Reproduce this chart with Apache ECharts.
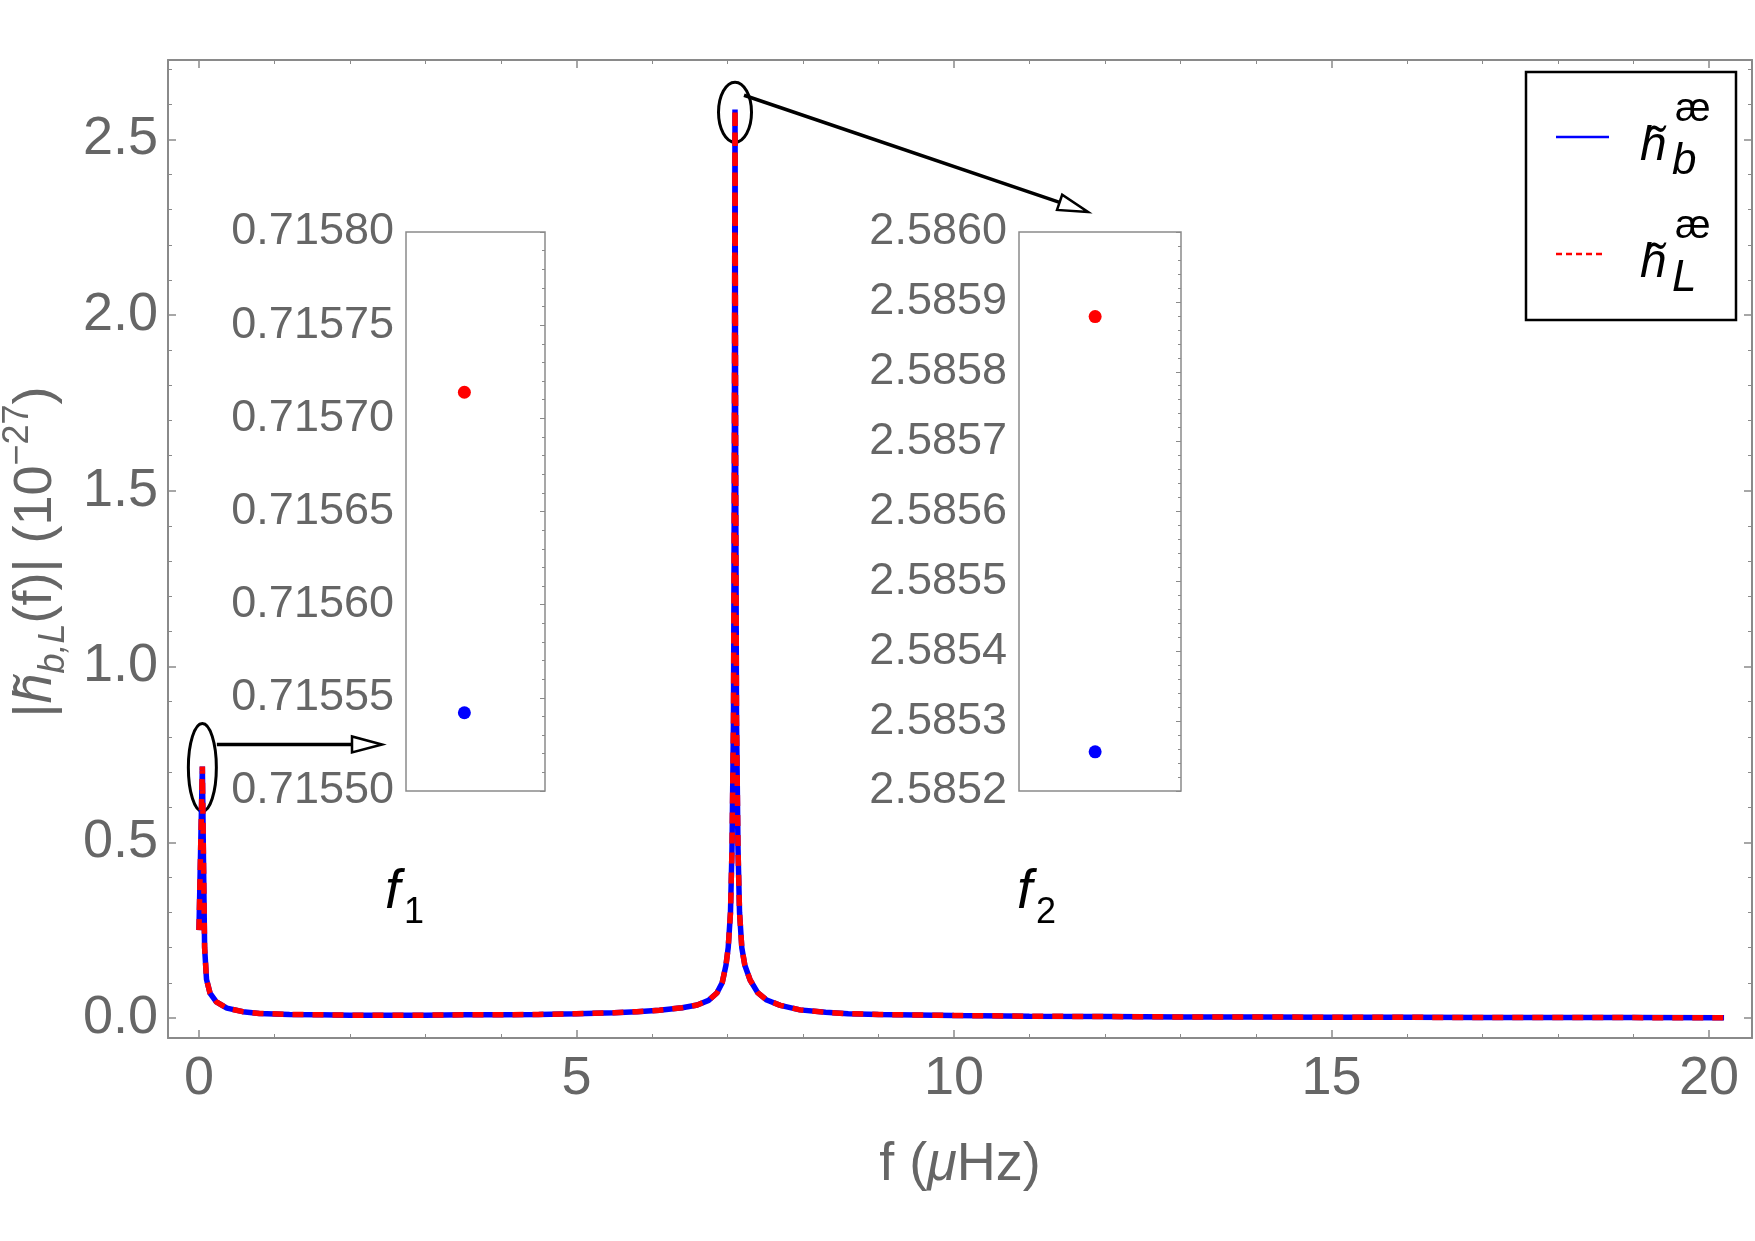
<!DOCTYPE html>
<html>
<head>
<meta charset="utf-8">
<title>|h(f)| spectrum</title>
<script src="https://cdn.jsdelivr.net/npm/echarts@6/dist/echarts.min.js"></script>
<style>
  html, body { margin: 0; padding: 0; background: #fff; }
  #main { width: 1755px; height: 1241px; }
</style>
</head>
<body>
<div id="main"></div>
<script>
// frequency in uHz, amplitude in 1e-27
const freq = [0, 0.045, 0.06, 0.075, 0.10, 0.146, 0.23, 0.37, 0.58, 0.8, 1.2, 1.6, 2.0, 2.5, 3.0, 3.5, 4.0, 4.5,
  5.0, 5.5, 5.8, 6.1, 6.4, 6.6, 6.75, 6.86, 6.93, 6.98, 7.01, 7.04, 7.06, 7.08, 7.09, 7.10, 7.11, 7.12, 7.14,
  7.16, 7.19, 7.23, 7.30, 7.40, 7.52, 7.70, 7.96, 8.3, 8.6, 9.0, 10.0, 11.0, 12.0, 13.0, 14.0, 15.0, 16.0,
  17.0, 18.0, 19.0, 20.2];
const hB = [0.25, 0.715542, 0.45, 0.20, 0.11, 0.071, 0.046, 0.028, 0.018, 0.013, 0.010, 0.009, 0.008, 0.008, 0.008, 0.009, 0.009, 0.010,
  0.012, 0.015, 0.018, 0.022, 0.029, 0.037, 0.050, 0.071, 0.10, 0.15, 0.20, 0.30, 0.48, 0.85, 1.5, 2.585256, 1.5, 0.85, 0.48,
  0.30, 0.20, 0.15, 0.108, 0.072, 0.051, 0.036, 0.023, 0.016, 0.012, 0.010, 0.007, 0.005, 0.004, 0.003, 0.003, 0.002, 0.002,
  0.001, 0.001, 0.001, 0.0005];
const hL = [0.25, 0.715714, 0.45, 0.20, 0.11, 0.071, 0.046, 0.028, 0.018, 0.013, 0.010, 0.009, 0.008, 0.008, 0.008, 0.009, 0.009, 0.010,
  0.012, 0.015, 0.018, 0.022, 0.029, 0.037, 0.050, 0.071, 0.10, 0.15, 0.20, 0.30, 0.48, 0.85, 1.5, 2.585879, 1.5, 0.85, 0.48,
  0.30, 0.20, 0.15, 0.108, 0.072, 0.051, 0.036, 0.023, 0.016, 0.012, 0.010, 0.007, 0.005, 0.004, 0.003, 0.003, 0.002, 0.002,
  0.001, 0.001, 0.001, 0.0005];

// zoomed values at the two peaks: [f1, f2]
const peakB = [0.715542, 2.585256];
const peakL = [0.715714, 2.585879];
const peakIdx = [1, 33];

// inset y ranges and tick steps
const inset1Y = [0.71550, 0.71580];
const inset2Y = [2.5852, 2.5860];
const insetStep = [0.00005, 0.0001];

const gray = '#666666';
const frame = '#8a8a8a';
const font = 'Liberation Sans';

const chart = echarts.init(document.getElementById('main'));

function onStep(v, step) {
  return Math.abs(v / step - Math.round(v / step)) < 1e-6;
}

function mirror(pos, grid, min, max) {
  return {
    type: 'value', gridIndex: grid, position: pos, min: min, max: max,
    axisLine: { show: true, onZero: false, lineStyle: { color: frame, width: 2 } },
    axisTick: { show: true, inside: true, length: 8, lineStyle: { color: frame, width: 1.5 } },
    minorTick: { show: true, splitNumber: 5, length: 4, lineStyle: { color: frame, width: 1 } },
    axisLabel: { show: false },
    splitLine: { show: false }
  };
}

const xMain = mirror('bottom', 0, -0.41, 20.57);
xMain.axisLabel = {
  show: true, fontSize: 54, color: gray, fontFamily: font, margin: 14,
  formatter: v => onStep(v, 5) ? String(Math.round(v)) : ''
};
xMain.name = '{n|f (}{i|\u03bc}{n|Hz)}';
xMain.nameLocation = 'middle';
xMain.nameGap = 100;
xMain.nameTextStyle = {
  rich: {
    n: { fontSize: 54, color: gray, fontFamily: font },
    i: { fontSize: 54, color: gray, fontFamily: font, fontStyle: 'italic' }
  }
};

const yMain = mirror('left', 0, -0.057, 2.726);
yMain.axisLabel = {
  show: true, fontSize: 54, color: gray, fontFamily: font, margin: 10,
  formatter: v => onStep(v, 0.5) ? v.toFixed(1) : ''
};

function insetAxis(pos, grid, range, step, digits, labels) {
  return {
    type: 'value', gridIndex: grid, position: pos, min: range[0], max: range[1], interval: step,
    axisLine: { show: false },
    axisTick: { show: !labels, inside: true, length: 5, lineStyle: { color: frame, width: 1 } },
    minorTick: { show: !labels, splitNumber: 5, length: 3, lineStyle: { color: frame, width: 1 } },
    axisLabel: {
      show: labels, fontSize: 45, color: gray, fontFamily: font, margin: 12,
      formatter: v => v.toFixed(digits)
    },
    splitLine: { show: false }
  };
}

const hiddenX = grid => ({ type: 'value', gridIndex: grid, min: 0, max: 1, show: false });

const dot = color => ({ color: color, opacity: 1 });

const option = {
  backgroundColor: '#ffffff',
  animation: false,
  grid: [
    { left: 168, top: 60, width: 1584, height: 978, outerBoundsMode: 'none' },
    { left: 406, top: 232, width: 139, height: 559, show: true, borderColor: frame, borderWidth: 1.5,
      backgroundColor: '#fff', outerBoundsMode: 'none' },
    { left: 1019, top: 232, width: 162, height: 559, show: true, borderColor: frame, borderWidth: 1.5,
      backgroundColor: '#fff', outerBoundsMode: 'none' }
  ],
  xAxis: [xMain, mirror('top', 0, -0.41, 20.57), hiddenX(1), hiddenX(2)],
  yAxis: [
    yMain,
    mirror('right', 0, -0.057, 2.726),
    insetAxis('left', 1, inset1Y, insetStep[0], 5, true),
    insetAxis('right', 1, inset1Y, insetStep[0], 5, false),
    insetAxis('left', 2, inset2Y, insetStep[1], 4, true),
    insetAxis('right', 2, inset2Y, insetStep[1], 4, false)
  ],
  series: [
    {
      name: 'hb', type: 'line', xAxisIndex: 0, yAxisIndex: 0, showSymbol: false, z: 2,
      data: freq.map((f, i) => [f, hB[i]]),
      lineStyle: { color: '#0000ff', width: 5.5 }
    },
    {
      name: 'hL', type: 'line', xAxisIndex: 0, yAxisIndex: 0, showSymbol: false, z: 3,
      data: freq.map((f, i) => [f, hL[i]]),
      lineStyle: { color: '#ff0000', width: 5.5, type: [11, 9] }
    },
    { type: 'scatter', xAxisIndex: 2, yAxisIndex: 2, symbolSize: 13, itemStyle: dot('#ff0000'), data: [[0.42, peakL[0]]] },
    { type: 'scatter', xAxisIndex: 2, yAxisIndex: 2, symbolSize: 13, itemStyle: dot('#0000ff'), data: [[0.42, peakB[0]]] },
    { type: 'scatter', xAxisIndex: 3, yAxisIndex: 4, symbolSize: 13, itemStyle: dot('#ff0000'), data: [[0.47, peakL[1]]] },
    { type: 'scatter', xAxisIndex: 3, yAxisIndex: 4, symbolSize: 13, itemStyle: dot('#0000ff'), data: [[0.47, peakB[1]]] }
  ]
};
chart.setOption(option);

// annotations: ellipses round the two peaks with arrows to the insets
const p1 = chart.convertToPixel({ gridIndex: 0 }, [freq[peakIdx[0]], hL[peakIdx[0]]]);
const p2 = chart.convertToPixel({ gridIndex: 0 }, [freq[peakIdx[1]], hL[peakIdx[1]]]);

function arrow(x1, y1, x2, y2) {
  const len = Math.hypot(x2 - x1, y2 - y1);
  const ux = (x2 - x1) / len, uy = (y2 - y1) / len;
  const bx = x2 - ux * 30, by = y2 - uy * 30;
  return [
    { type: 'line', shape: { x1: x1, y1: y1, x2: bx, y2: by }, style: { stroke: '#000', lineWidth: 3.5 } },
    { type: 'polygon', shape: { points: [[x2, y2], [bx - uy * 8, by + ux * 8], [bx + uy * 8, by - ux * 8]] },
      style: { fill: '#fff', stroke: '#000', lineWidth: 2.5 } }
  ];
}

function txt(x, y, s, size, italic, color) {
  return {
    type: 'text', x: x, y: y, z: 10,
    style: { text: s, fontSize: size, fontFamily: font, fontStyle: italic ? 'italic' : 'normal',
      fill: color, align: 'left', verticalAlign: 'bottom' }
  };
}

const graphics = [
  { type: 'ellipse', shape: { cx: p1[0], cy: p1[1] + 1, rx: 14, ry: 44 }, style: { fill: null, stroke: '#000', lineWidth: 3 } },
  { type: 'ellipse', shape: { cx: p2[0], cy: p2[1] + 3, rx: 16.5, ry: 30 }, style: { fill: null, stroke: '#000', lineWidth: 3 } }
].concat(arrow(p1[0] + 14.5, p1[1] - 22, 382, p1[1] - 22))
 .concat(arrow(p2[0] + 9, p2[1] - 14, 1088, 212))
 .concat([
  txt(385, 920, 'f', 55, true, '#000'),
  txt(404, 931, '1', 36, false, '#000'),
  txt(1017, 920, 'f', 55, true, '#000'),
  txt(1036, 931, '2', 36, false, '#000'),
  // legend
  { type: 'rect', shape: { x: 1526, y: 72, width: 210, height: 248 }, style: { fill: '#fff', stroke: '#000', lineWidth: 2.5 } },
  { type: 'line', shape: { x1: 1556, y1: 137, x2: 1609, y2: 137 }, style: { stroke: '#0000ff', lineWidth: 2.5 } },
  { type: 'line', shape: { x1: 1556, y1: 254, x2: 1606, y2: 254 }, style: { stroke: '#ff0000', lineWidth: 2.5, lineDash: [6, 4] } },
  txt(1640, 171, 'h\u0303', 48, true, '#000'),
  txt(1672, 184, 'b', 44, true, '#000'),
  txt(1675, 130, '\u00e6', 40, false, '#000'),
  txt(1640, 288, 'h\u0303', 48, true, '#000'),
  txt(1672, 301, 'L', 44, true, '#000'),
  txt(1675, 247, '\u00e6', 40, false, '#000'),
  // y axis title
  {
    type: 'text', x: 36, y: 552, rotation: Math.PI / 2,
    style: {
      text: '{n||}{h|h\u0303}{s|b,L}{n|(f)| (10}{p|\u221227}{n|)}',
      align: 'center', verticalAlign: 'middle', fill: gray,
      rich: {
        n: { fontSize: 54, fontFamily: font, fill: gray, lineHeight: 72 },
        h: { fontSize: 54, fontFamily: font, fill: gray, fontStyle: 'italic', lineHeight: 72 },
        s: { fontSize: 36, fontFamily: font, fill: gray, fontStyle: 'italic', verticalAlign: 'bottom' },
        p: { fontSize: 36, fontFamily: font, fill: gray, verticalAlign: 'top' }
      }
    }
  }
]);

chart.setOption({ graphic: graphics });
</script>
</body>
</html>
